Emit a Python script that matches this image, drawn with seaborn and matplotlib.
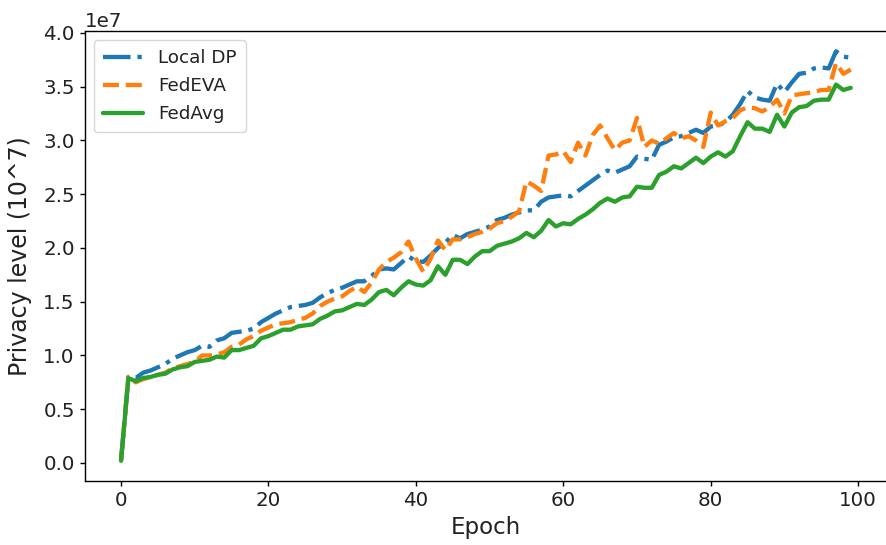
import numpy as np
import pandas as pd
import matplotlib
matplotlib.use("Agg")
import matplotlib.pyplot as plt
import seaborn as sns

epochs = list(range(100))
scale = 1e7

local_dp = [0.02, 0.80, 0.79, 0.84, 0.86, 0.89, 0.92, 0.97, 1.00, 1.03,
            1.05, 1.09, 1.08, 1.14, 1.16, 1.21, 1.22, 1.23, 1.25, 1.31,
            1.35, 1.39, 1.42, 1.45, 1.46, 1.47, 1.49, 1.54, 1.58, 1.61,
            1.63, 1.66, 1.69, 1.69, 1.74, 1.80, 1.81, 1.80, 1.86, 1.92,
            1.88, 1.87, 1.93, 2.00, 2.05, 2.12, 2.09, 2.13, 2.15, 2.17,
            2.20, 2.26, 2.28, 2.31, 2.33, 2.35, 2.35, 2.43, 2.47, 2.48,
            2.49, 2.48, 2.53, 2.58, 2.63, 2.68, 2.72, 2.70, 2.73, 2.76,
            2.85, 2.83, 2.82, 2.96, 2.99, 3.03, 3.04, 3.07, 3.10, 3.07,
            3.13, 3.14, 3.17, 3.24, 3.34, 3.46, 3.40, 3.38, 3.37, 3.53,
            3.45, 3.54, 3.62, 3.63, 3.67, 3.68, 3.67, 3.83, 3.78, 3.77]

fedeva = [0.02, 0.80, 0.75, 0.78, 0.80, 0.82, 0.84, 0.88, 0.90, 0.92,
          0.94, 1.00, 1.00, 1.01, 1.03, 1.08, 1.10, 1.15, 1.18, 1.23,
          1.26, 1.29, 1.30, 1.31, 1.33, 1.35, 1.39, 1.46, 1.50, 1.53,
          1.55, 1.60, 1.64, 1.59, 1.68, 1.80, 1.87, 1.91, 1.96, 2.06,
          1.90, 1.78, 1.90, 2.07, 1.98, 2.08, 2.08, 2.10, 2.13, 2.15,
          2.18, 2.23, 2.25, 2.29, 2.34, 2.62, 2.58, 2.53, 2.86, 2.87,
          2.90, 2.80, 2.98, 2.86, 3.05, 3.14, 3.02, 2.91, 2.98, 3.00,
          3.21, 2.94, 3.00, 2.97, 3.02, 3.07, 3.02, 3.04, 3.00, 2.94,
          3.26, 3.14, 3.18, 3.21, 3.28, 3.31, 3.30, 3.27, 3.31, 3.38,
          3.25, 3.42, 3.43, 3.44, 3.45, 3.47, 3.47, 3.72, 3.62, 3.66]

fedavg = [0.02, 0.79, 0.76, 0.79, 0.80, 0.82, 0.83, 0.87, 0.89, 0.90,
          0.94, 0.95, 0.96, 0.99, 0.98, 1.05, 1.05, 1.07, 1.09, 1.16,
          1.18, 1.21, 1.24, 1.24, 1.27, 1.28, 1.29, 1.34, 1.37, 1.41,
          1.42, 1.45, 1.48, 1.47, 1.52, 1.59, 1.61, 1.56, 1.63, 1.69,
          1.66, 1.65, 1.70, 1.83, 1.75, 1.89, 1.89, 1.85, 1.92, 1.97,
          1.97, 2.02, 2.04, 2.06, 2.09, 2.14, 2.10, 2.16, 2.26, 2.20,
          2.23, 2.22, 2.27, 2.31, 2.36, 2.42, 2.46, 2.43, 2.47, 2.48,
          2.57, 2.56, 2.56, 2.68, 2.71, 2.76, 2.74, 2.79, 2.84, 2.79,
          2.85, 2.89, 2.85, 2.90, 3.04, 3.17, 3.11, 3.11, 3.08, 3.24,
          3.13, 3.26, 3.31, 3.32, 3.37, 3.38, 3.38, 3.52, 3.47, 3.49]

series_names = ["Local DP", "FedEVA", "FedAvg"]
series_values = [local_dp, fedeva, fedavg]

frames = []
for name, vals in zip(series_names, series_values):
    frames.append(pd.DataFrame({"Epoch": epochs,
                                "value": np.array(vals) * scale,
                                "method": name}))
df = pd.concat(frames, ignore_index=True)

sns.set_style("ticks")
plt.rcParams["font.family"] = ["DejaVu Sans"]
plt.rcParams["axes.edgecolor"] = "black"
plt.rcParams["xtick.color"] = "black"
plt.rcParams["ytick.color"] = "black"
plt.rcParams["text.color"] = "#222222"
plt.rcParams["axes.labelcolor"] = "#222222"

fig = plt.figure(figsize=(8.86, 5.45), dpi=100)
ax = fig.add_axes([0.0954, 0.1169, 0.906, 0.8266])

palette = {"Local DP": "#1f77b4", "FedEVA": "#ff7f0e", "FedAvg": "#2ca02c"}
dashes = {"Local DP": (6.4, 1.6, 1.0, 1.6), "FedEVA": (3.7, 1.6), "FedAvg": ""}

sns.lineplot(data=df, x="Epoch", y="value", hue="method", style="method",
             hue_order=series_names, style_order=series_names,
             palette=palette, dashes=dashes, linewidth=3.1, ax=ax)

ax.set_xlabel("Epoch", fontsize=16.5)
ax.set_ylabel("Privacy level (10^7)", fontsize=17, labelpad=8)
ax.set_yticks(np.arange(0, 4.01e7, 0.5e7))
ax.tick_params(labelsize=14.3, length=3.5, width=1, labelcolor="#222222")
ax.yaxis.get_offset_text().set_fontsize(14.3)
for s in ax.spines.values():
    s.set_linewidth(1)
    s.set_color("black")

leg = ax.legend(loc="upper left", fontsize=13.2, frameon=True,
                handlelength=2.2, borderpad=0.5, labelspacing=0.55)
leg.get_frame().set_edgecolor("#cccccc")

fig.savefig("out.png", dpi=100)
